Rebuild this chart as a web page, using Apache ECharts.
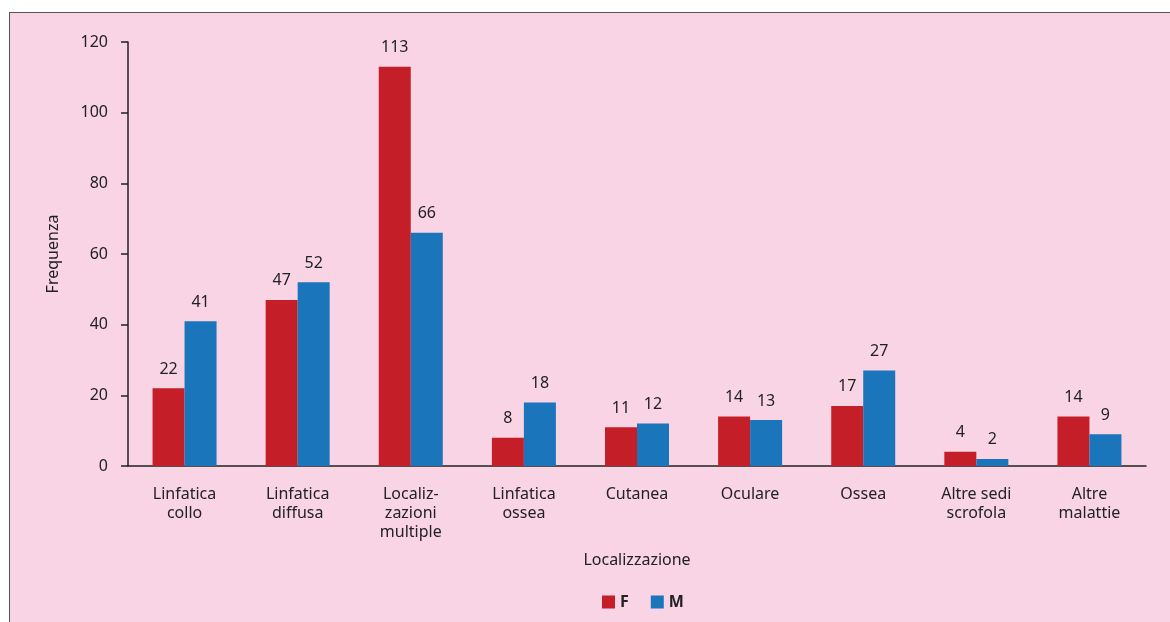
<!DOCTYPE html>
<html>
<head>
<meta charset="utf-8">
<script src="https://cdn.jsdelivr.net/npm/echarts@6/dist/echarts.min.js"></script>
<style>
  html, body { margin: 0; padding: 0; background: #fff; }
  #frame {
    position: absolute; left: 9px; top: 12px; width: 1200px; height: 700px;
    background: #f9d4e4; border: 1px solid #555;
  }
  #chart { position: absolute; left: 0; top: 0; width: 1170px; height: 622px; }
</style>
</head>
<body>
<div id="frame"></div>
<div id="chart"></div>
<script>
// categories on the x axis
const categories = [
    'Linfatica\ncollo', 'Linfatica\ndiffusa', 'Localiz-\nzazioni\nmultiple',
    'Linfatica\nossea', 'Cutanea', 'Oculare', 'Ossea',
    'Altre sedi\nscrofola', 'Altre\nmalattie'
];
// frequencies per sex
const femmine = [22, 47, 113, 8, 11, 14, 17, 4, 14];
const maschi = [41, 52, 66, 18, 12, 13, 27, 2, 9];
const yTicks = [0, 20, 40, 60, 80, 100, 120];

const font = '"Noto Sans", sans-serif';
const textColor = '#222';

const chart = echarts.init(document.getElementById('chart'));

function barSeries(name, data, color) {
    return {
        name: name,
        type: 'bar',
        data: data,
        barWidth: 32,
        barGap: '0%',
        itemStyle: { color: color },
        label: {
            show: true,
            position: 'top',
            distance: 11,
            color: textColor,
            fontFamily: font,
            fontSize: 16
        }
    };
}

chart.setOption({
    backgroundColor: 'transparent',
    animation: false,
    textStyle: { fontFamily: font },
    grid: { left: 128, right: 24, top: 42, bottom: 156, containLabel: false },
    legend: {
        top: 589,
        left: 597,
        itemWidth: 13,
        itemHeight: 13,
        itemGap: 22,
        icon: 'rect',
        textStyle: { color: textColor, fontSize: 16, fontWeight: 'bold', fontFamily: font },
        data: ['F', 'M']
    },
    xAxis: {
        type: 'category',
        data: categories,
        name: 'Localizzazione',
        nameLocation: 'middle',
        nameGap: 86,
        nameTextStyle: { color: textColor, fontSize: 16, fontFamily: font },
        axisLine: { lineStyle: { color: '#222', width: 1.5 } },
        axisTick: { show: false },
        axisLabel: {
            color: textColor, fontSize: 16, fontFamily: font,
            lineHeight: 19, margin: 19, interval: 0
        }
    },
    yAxis: {
        type: 'value',
        min: yTicks[0],
        max: yTicks[yTicks.length - 1],
        interval: 20,
        name: 'Frequenza',
        nameLocation: 'middle',
        nameGap: 67,
        nameRotate: 90,
        nameTextStyle: { color: textColor, fontSize: 16, fontFamily: font },
        splitLine: { show: false },
        axisLine: { show: true, lineStyle: { color: '#222', width: 1.5 } },
        axisTick: { show: true, length: 7, lineStyle: { color: '#222', width: 1.5 } },
        axisLabel: { color: textColor, fontSize: 16, fontFamily: font, margin: 20 }
    },
    series: [
        barSeries('F', femmine, '#c41f28'),
        barSeries('M', maschi, '#1b75bb')
    ]
});
</script>
</body>
</html>
